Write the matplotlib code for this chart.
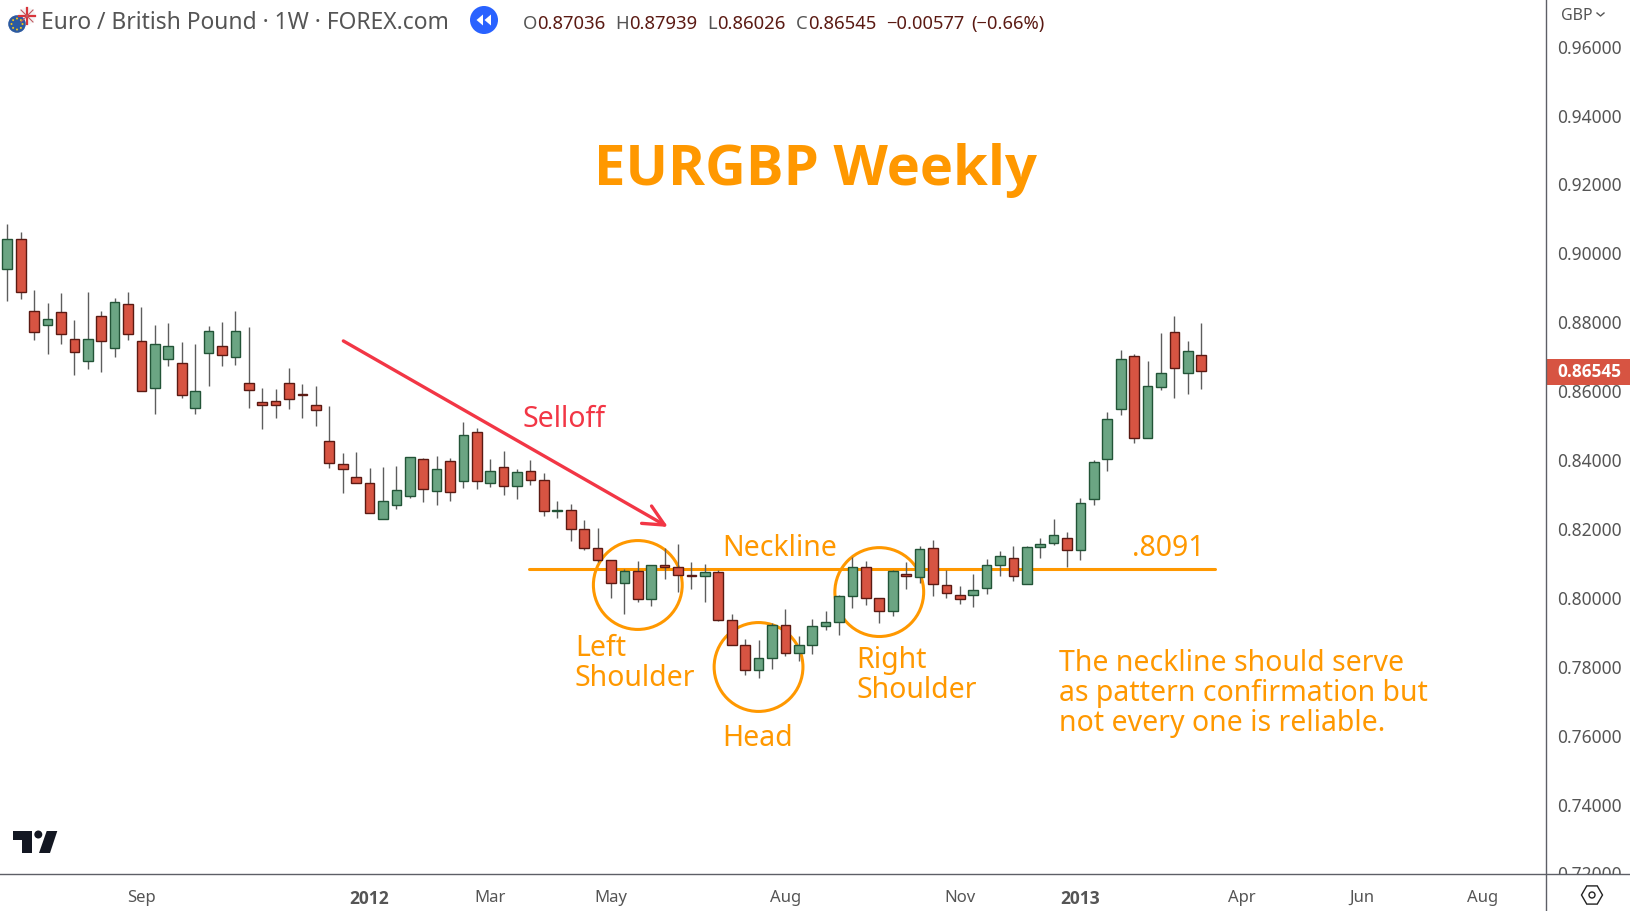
import numpy as np
import matplotlib
matplotlib.use('Agg')
import matplotlib.pyplot as plt
from matplotlib.patches import Circle, Ellipse, Polygon, Rectangle, RegularPolygon
from matplotlib.transforms import Bbox

plt.rcParams['font.family'] = ['Noto Sans', 'DejaVu Sans']

# weekly EURGBP candles
opens = [.89508, .90379, .88289, .87883, .88260, .87476, .86838, .88144, .87215, .88492,
         .87418, .86054, .86896, .86780, .85473, .87070, .87273, .86954, .86199, .85648,
         .85677, .86199, .85880, .85561, .84515, .83848, .83470, .83296, .82251, .82657,
         .82919, .83993, .83064, .83935, .83354, .84776, .83296, .83760, .83209, .83644,
         .83383, .82483, .82512, .81961, .81409, .81061, .80394, .80742, .79929, .80916,
         .80858, .80626, .80597, .80713, .79320, .78594, .77868, .78216, .79174, .78362,
         .78594, .79145, .79261, .80016, .80858, .79958, .79581, .80655, .80568, .81410,
         .80335, .80045, .80045, .80248, .80916, .81119, .80364, .81438, .81555, .81700,
         .81351, .82832, .83993, .85444, .86983, .84602, .86083, .87679, .86489, .87036]
highs = [.90824, .90592, .88908, .88531, .88821, .88038, .88850, .88299, .88676, .88850,
         .88415, .87892, .87951, .87399, .87341, .87863, .87980, .88299, .87834, .86064,
         .86035, .86644, .86180, .86122, .85541, .84177, .84206, .83741, .83770, .83799,
         .84051, .84022, .84089, .84022, .85076, .84902, .84002, .84235, .83712, .83973,
         .83596, .82773, .82696, .82232, .81999, .81061, .80809, .81042, .80916, .81419,
         .81535, .81013, .80955, .80771, .79503, .78778, .78749, .79242, .79648, .78865,
         .79358, .79590, .80045, .81158, .81042, .79958, .80771, .81013, .81468, .81651,
         .80781, .80316, .80664, .81090, .81332, .81477, .81477, .81709, .82261, .81883,
         .82861, .83964, .85367, .87167, .87050, .86847, .87660, .88154, .87428, .87939]
lows = [.88599, .88657, .87467, .87060, .87351, .86451, .86625, .86538, .86973, .87467,
        .85967, .85319, .86712, .85783, .85319, .86131, .86712, .86741, .85493, .84883,
        .85203, .85464, .85203, .84970, .83751, .83025, .83296, .82425, .82251, .82561,
        .82880, .82764, .82677, .82793, .83170, .83141, .83199, .82967, .82851, .83257,
        .82357, .82299, .81632, .81370, .81022, .79967, .79513, .79842, .79745, .80529,
        .80152, .80239, .79861, .79290, .78594, .77742, .77655, .77916, .78294, .78149,
        .78352, .79049, .78903, .79687, .79774, .79252, .79455, .80239, .80413, .80036,
        .79977, .79793, .79697, .80093, .80616, .80471, .80364, .81138, .81516, .80877,
        .81080, .82677, .83664, .85289, .84477, .84602, .86015, .85783, .85899, .86026]
closes = [.90379, .88841, .87680, .88057, .87622, .87099, .87476, .87418, .88550, .87622,
          .85967, .87331, .87273, .85851, .85967, .87709, .87012, .87709, .85996, .85561,
          .85561, .85735, .85851, .85415, .83877, .83702, .83296, .82425, .82773, .83093,
          .84051, .83122, .83702, .83035, .84689, .83354, .83644, .83209, .83615, .83383,
          .82483, .82512, .81961, .81409, .81061, .80393, .80742, .79929, .80916, .80858,
          .80626, .80597, .80713, .79320, .78594, .77868, .78216, .79174, .78362, .78594,
          .79145, .79261, .80016, .80858, .79958, .79581, .80742, .80597, .81380, .80365,
          .80103, .79948, .80190, .80916, .81177, .80597, .81438, .81525, .81787, .81351,
          .82716, .83906, .85154, .86896, .84602, .86112, .86489, .86634, .87128, .86545]

price_ticks = [.96, .94, .92, .90, .88, .86, .84, .82, .80, .78, .76, .74, .72]
month_pos = [10, 27, 36, 45, 58, 71, 80, 92, 101, 110]
month_labels = ['Sep', '2012', 'Mar', 'May', 'Aug', 'Nov', '2013', 'Apr', 'Jun', 'Aug']
neckline = 0.8081
last_price = closes[-1]

up_fill, up_edge = '#6BA583', '#225437'
down_fill, down_edge = '#D75442', '#5B1A13'
wick_color = '#5D5D5D'
orange = '#FF9800'
red = '#F23645'
axis_color = '#5D5F66'
text_color = '#555555'

W, H = 1630, 912
fig = plt.figure(figsize=(W / 100, H / 100), dpi=100)
ax = fig.add_axes([0, (H - 875) / H, 1546 / W, 875 / H])

idx = np.arange(len(opens))
opens, highs, lows, closes = map(np.array, (opens, highs, lows, closes))
is_up = closes >= opens
ax.vlines(idx, lows, highs, color=wick_color, lw=1.0, zorder=2)
ax.bar(idx, np.abs(closes - opens), bottom=np.minimum(opens, closes), width=0.72,
       color=np.where(is_up, up_fill, down_fill), edgecolor=np.where(is_up, up_edge, down_edge),
       lw=1.0, zorder=3)

ax.set_xlim(-0.544, 114.7)
ax.set_ylim(0.71956, 0.973556)

# neckline, arrow and the three circles
ax.hlines(neckline, 38.9, 90, color=orange, lw=2.2, zorder=1, capstyle='round')
for cx, cy in [(47, 0.80345), (56, 0.77965), (65, 0.80140)]:
    ax.add_patch(Ellipse((cx, cy), 6.62, 0.0258, fc='none', ec=orange, lw=2.2, zorder=1))
ax.annotate('', xy=(49.25, 0.82030), xytext=(25.05, 0.87430),
            arrowprops=dict(arrowstyle='->,head_length=1.5,head_width=0.72', color=red, lw=2.4,
                            shrinkA=0, shrinkB=0), zorder=1)

for s in ['top', 'left', 'right', 'bottom']:
    ax.spines[s].set_visible(False)
ax.yaxis.tick_right()
ax.set_yticks(price_ticks)
ax.set_yticklabels(['%.5f' % p for p in price_ticks], fontsize=12.5, color=text_color)
ax.tick_params(axis='y', length=0, pad=8)
ax.set_xticks(month_pos)
ax.set_xticklabels(month_labels, fontsize=12, color=text_color)
ax.tick_params(axis='x', length=0, pad=11)
for lab in ax.get_xticklabels():
    if lab.get_text() in ('2012', '2013'):
        lab.set_family('Open Sans')
        lab.set_fontweight('bold')
        lab.set_fontsize(12.5)
# 0.72000 is cut off by the time axis
for lab in ax.get_yticklabels():
    lab.set_clip_box(Bbox([[1546, H - 875], [W, H]]))
    lab.set_clip_on(True)

# everything else is placed in screen pixels
ov = fig.add_axes([0, 0, 1, 1], zorder=5)
ov.set_xlim(0, W)
ov.set_ylim(H, 0)
ov.axis('off')

ov.plot([0, W], [875, 875], color=axis_color, lw=1)
ov.plot([1546, 1546], [0, H], color=axis_color, lw=1)

ov.add_patch(Rectangle((1546, 360), 84, 26, fc=down_fill, ec='none'))
ov.text(1589, 372.5, '%.5f' % last_price, color='white', fontsize=12.4, fontweight='bold',
        family='Open Sans', ha='center', va='center')
ov.text(1561, 16, 'GBP', color=text_color, fontsize=11.5, va='center')
ov.plot([1597, 1600.5, 1604], [14, 17, 14], color=text_color, lw=1)

ov.text(816, 185, 'EURGBP Weekly', color=orange, fontsize=40.5, fontweight='bold',
        family='Open Sans', ha='center', va='baseline')


def note(x, y, s, color=orange):
    ov.text(x, y, s, color=color, fontsize=20.5, va='baseline', ha='left')


note(522, 427, 'Selloff', red)
note(722, 556, 'Neckline')
note(1132, 556, '.8091')
note(575, 656, 'Left')
note(575, 686, 'Shoulder')
note(722, 746, 'Head')
note(856, 668, 'Right')
note(856, 698, 'Shoulder')
note(1059, 671, 'The neckline should serve')
note(1059, 701, 'as pattern confirmation but')
note(1059, 731, 'not every one is reliable.')

# header
ov.text(41, 23, 'Euro / British Pound \u00b7 1W \u00b7 FOREX.com', color=text_color, fontsize=16.45,
        va='center')
ov.add_patch(Circle((484, 21), 14, fc='#2962FF', ec='none'))
ov.add_patch(Polygon([(483, 15.5), (483, 26.5), (476.5, 21)], fc='white', ec='none'))
ov.add_patch(Polygon([(491, 15.5), (491, 26.5), (484.5, 21)], fc='white', ec='none'))

ov.add_patch(Circle((27, 17), 8.5, fc='#F4F4F4', ec='none'))
ov.plot([19, 35], [17, 17], color='#D8343A', lw=1.6)
ov.plot([27, 27], [9, 25], color='#D8343A', lw=1.6)
ov.plot([21, 33], [11, 23], color='#C05A60', lw=0.8)
ov.plot([21, 33], [23, 11], color='#C05A60', lw=0.8)
ov.add_patch(Circle((17, 25), 9.5, fc='#2C5AA0', ec='white', lw=1))
for a in np.arange(0, 360, 45):
    ov.add_patch(Circle((17 + 5.5 * np.cos(np.radians(a)), 25 + 5.5 * np.sin(np.radians(a))), 1,
                        fc='#F5C518', ec='none'))

for x, letter, value, vcol in [(523, 'O', '0.87036', down_edge), (615, 'H', '0.87939', down_edge),
                               (707, 'L', '0.86026', down_edge), (796, 'C', '0.86545', down_edge)]:
    ov.text(x, 24, letter, color=text_color, fontsize=13.3, va='center')
    ov.text(x + {'O': 14, 'H': 14, 'L': 10, 'C': 12.5}[letter], 24, value, color=vcol, fontsize=13.3,
            va='center')
ov.text(886, 24, '\u22120.00577', color=down_edge, fontsize=13.2, va='center')
ov.text(971, 24, '(\u22120.66%)', color=down_edge, fontsize=13.2, va='center')

# tradingview logo
logo = '#131722'
ov.add_patch(Polygon([(13, 832), (32, 832), (32, 854), (22, 854), (22, 841), (13, 841)], fc=logo, ec='none'))
ov.add_patch(Circle((38.3, 835.5), 4, fc=logo, ec='none'))
ov.add_patch(Polygon([(46.7, 832), (57.3, 832), (50, 854), (39, 854)], fc=logo, ec='none'))

# settings hexagon
ov.add_patch(RegularPolygon((1592, 896), 6, radius=10.5, orientation=np.pi / 6, fc='none', ec='#222222', lw=1))
ov.add_patch(Circle((1592, 896), 3, fc='none', ec='#222222', lw=1))

fig.savefig('out.png', dpi=100)
